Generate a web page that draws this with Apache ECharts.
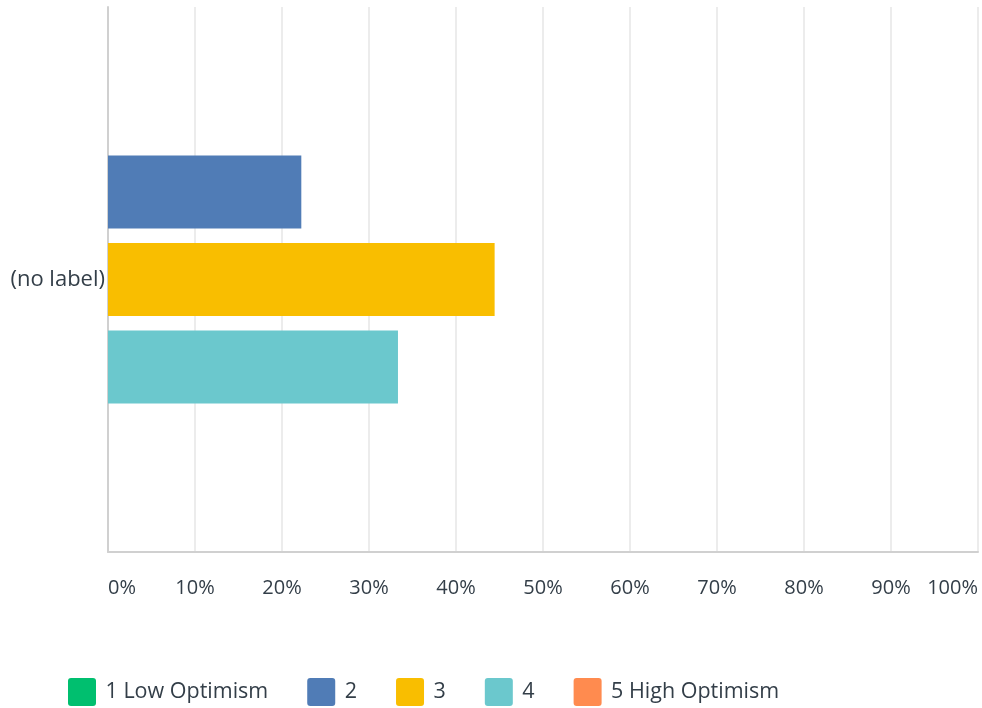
<!DOCTYPE html>
<html><head><meta charset="utf-8">
<script src="https://cdn.jsdelivr.net/npm/echarts@6/dist/echarts.min.js"></script>
<style>html,body{margin:0;padding:0;background:#fff}#c{width:982px;height:708px}</style>
</head><body><div id="c"></div>
<script>
const categories = ['(no label)'];
const seriesNames = ['1 Low Optimism', '2', '3', '4', '5 High Optimism'];
const seriesValues = [[0], [22.22], [44.44], [33.33], [0]];
const colors = ['#00BF6F', '#507CB6', '#F9BE00', '#6BC8CD', '#FF8B4F'];
const tickLabels = ['0%','10%','20%','30%','40%','50%','60%','70%','80%','90%','100%'];

const chart = echarts.init(document.getElementById('c'));
const font = '"Open Sans", Roboto, sans-serif';
const sq = 'path://M3,0 H25 Q28,0 28,3 V25 Q28,28 25,28 H3 Q0,28 0,25 V3 Q0,0 3,0 Z';
chart.setOption({
  animation: false,
  grid: {left: 108, right: 4, top: 7, bottom: 156, containLabel: false},
  legend: {
    left: 68, top: 678, padding: 0, itemWidth: 29, itemHeight: 28, itemGap: 39, icon: sq,
    data: seriesNames,
    textStyle: {fontFamily: font, fontSize: 21.5, color: '#333e48', padding: [0,0,0,4]}
  },
  xAxis: {
    type: 'value', min: 0, max: 100, interval: 10,
    axisLine: {show: true, lineStyle: {color: '#d0d0d0', width: 2}},
    axisTick: {show: false},
    splitLine: {show: true, lineStyle: {color: '#ececec', width: 2}},
    axisLabel: {
      margin: 26, fontFamily: font, fontSize: 20, color: '#333e48',
      alignMinLabel: 'left', alignMaxLabel: 'right',
      formatter: v => tickLabels[Math.round(v / 10)]
    }
  },
  yAxis: {
    type: 'category', data: categories, inverse: true,
    axisLine: {show: true, lineStyle: {color: '#d0d0d0', width: 2}},
    axisTick: {show: false},
    axisLabel: {margin: 3, fontFamily: font, fontSize: 22, color: '#333e48'}
  },
  series: seriesNames.map((n, i) => ({
    name: n, type: 'bar', data: seriesValues[i], barWidth: 73, barGap: '20%',
    itemStyle: {color: colors[i]}
  }))
});
</script></body></html>
